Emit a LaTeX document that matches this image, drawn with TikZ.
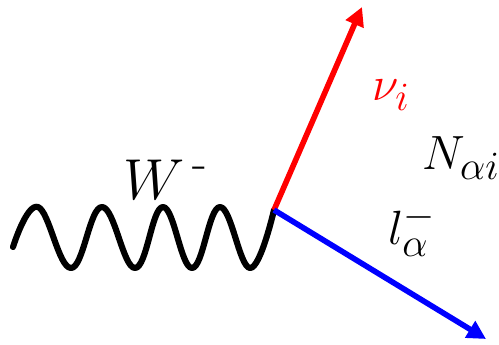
\documentclass[tikz,border=0pt]{standalone}
\usepackage{amsmath}
\usetikzlibrary{arrows.meta}

\tikzset{every picture/.style={line width=0.75pt}}
\tikzset{
  wline/.style={line width=4.6pt, line cap=round, line join=round},
  fermion/.style={line width=4.2pt, -{Triangle[length=14pt,width=14pt]}},
  lbl/.style={font=\Huge, scale=1.45, inner sep=0pt}
}

\begin{document}
\begin{tikzpicture}[x=0.75pt,y=0.75pt,yscale=-1,xscale=1]
\useasboundingbox (0,0) rectangle (499,345);

% vertex and free ends
\coordinate (vtx) at (274,210);
\coordinate (wstart) at (13,247);
\coordinate (nutip) at (362,7);
\coordinate (ltip) at (486,339);

%Wave: W boson
\draw [wline] plot [smooth, tension=0.7] coordinates {(wstart) (38,207) (71,268) (102,207) (135,268) (163,207) (192,268) (220,207) (250,268) (vtx)};

%Arrow: neutrino
\draw [fermion, red] (vtx) -- (nutip);
%Arrow: lepton
\draw [fermion, blue] (vtx) -- (ltip);

% Text Node
\node [lbl, scale=1.2] (wlbl) at (166,180) {$W^{\,\text{-}}$};
% Text Node
\node [lbl, text=red] (nulbl) at (391,95) {$\nu_i$};
% Text Node
\node [lbl] (nlbl) at (461,158) {$N_{\alpha i}$};
% Text Node
\node [lbl] (llbl) at (412,230) {$l_\alpha^-$};

\end{tikzpicture}
\end{document}
